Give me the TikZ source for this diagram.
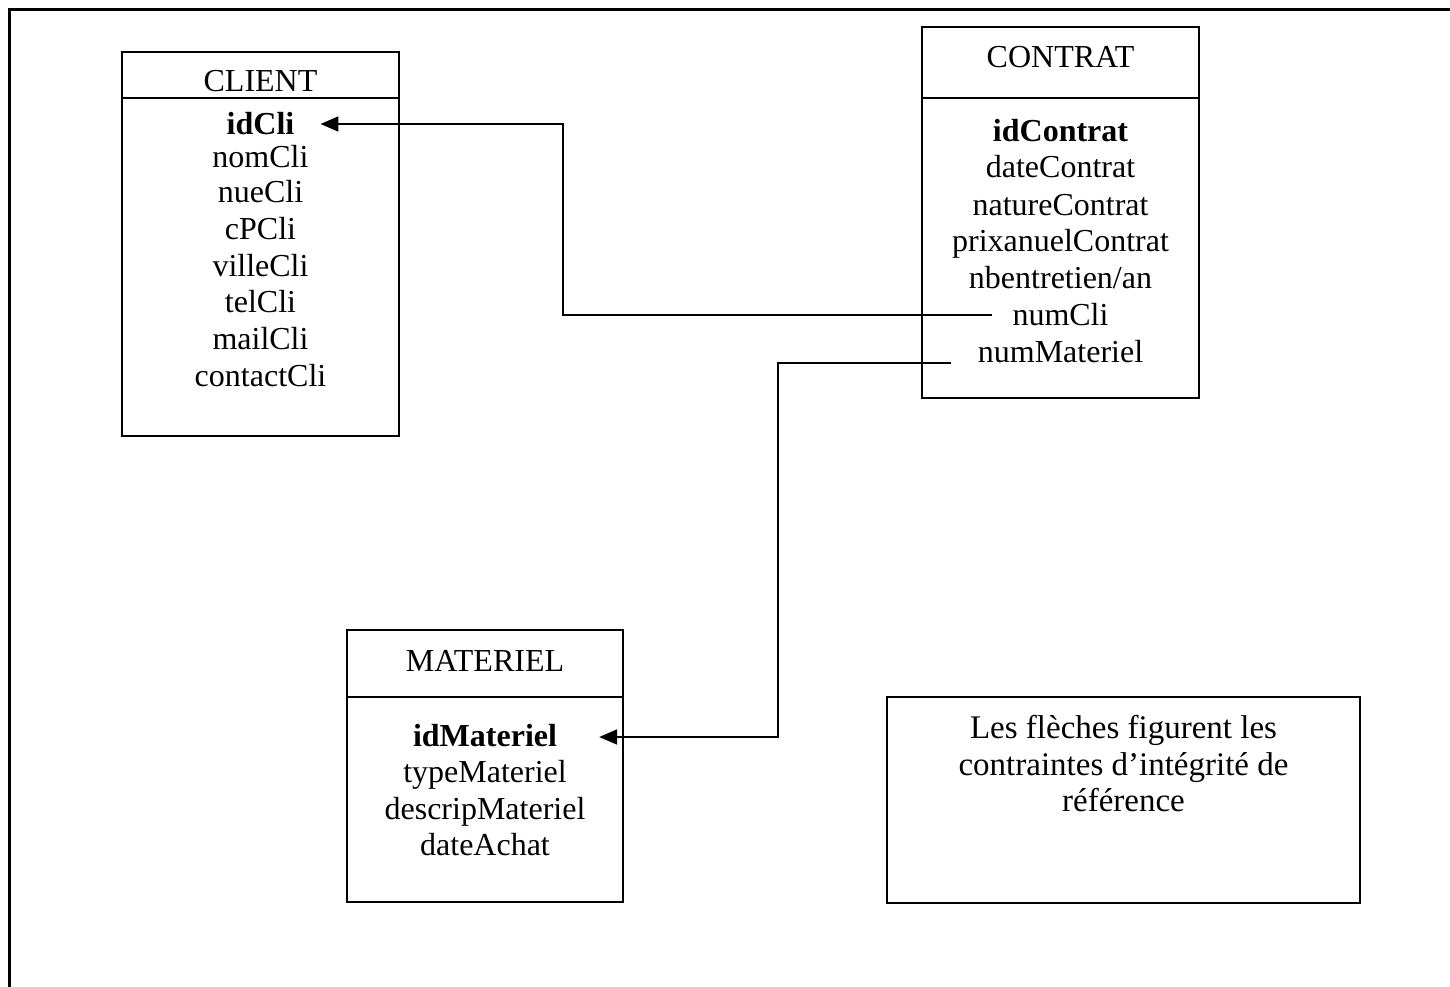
\documentclass[tikz,border=0pt]{standalone}
\usepackage{fontspec}
\setmainfont{Liberation Serif}
\usetikzlibrary{arrows.meta}
\tikzset{
  box/.style={draw, line width=1.6pt, inner sep=0pt},
  sep/.style={line width=1.6pt},
  txt/.style={inner sep=0pt, anchor=base, font=\fontsize{32}{37}\selectfont},
  key/.style={txt, font=\fontsize{32}{37}\selectfont\bfseries},
  link/.style={line width=1.8pt, -{Triangle[length=18pt,width=15pt]}},
  frame/.style={line width=3pt}
}
\begin{document}
\begin{tikzpicture}[x=1pt,y=-1pt]
\useasboundingbox (0,0) rectangle (1450,987);
% outer frame (top and left only)
\draw[frame] (9,990) -- (9,10) -- (1455,10);
% CLIENT
\node[box, minimum width=277pt, minimum height=384pt] (client) at (260.5,244) {};
\draw[sep] (client.west |- 0,98) -- (client.east |- 0,98);
\node[txt] (clientT) at (260.5,92) {CLIENT};
\node[key] (idCli) at (260.5,135) {idCli};
\node[txt] (nomCli) at (260.5,168) {nomCli};
\node[txt] (nueCli) at (260.5,203) {nueCli};
\node[txt] (cPCli) at (260.5,239) {cPCli};
\node[txt] (villeCli) at (260.5,276) {villeCli};
\node[txt] (telCli) at (260.5,312) {telCli};
\node[txt] (mailCli) at (260.5,349) {mailCli};
\node[txt] (contactCli) at (260.5,386) {contactCli};
% CONTRAT
\node[box, minimum width=277pt, minimum height=371pt] (contrat) at (1060.5,212.5) {};
\draw[sep] (contrat.west |- 0,98) -- (contrat.east |- 0,98);
\node[txt] (contratT) at (1060.5,68) {CONTRAT};
\node[key] (idContrat) at (1060.5,142) {idContrat};
\node[txt] (dateContrat) at (1060.5,178) {dateContrat};
\node[txt] (natureContrat) at (1060.5,215) {natureContrat};
\node[txt] (prix) at (1060.5,251) {prixanuelContrat};
\node[txt] (nbent) at (1060.5,288) {nbentretien/an};
\node[txt] (numCli) at (1060.5,325) {numCli};
\node[txt] (numMateriel) at (1060.5,362) {numMateriel};
% MATERIEL
\node[box, minimum width=276pt, minimum height=272pt] (materiel) at (485,766) {};
\draw[sep] (materiel.west |- 0,697) -- (materiel.east |- 0,697);
\node[txt] (materielT) at (485,671) {MATERIEL};
\node[key] (idMateriel) at (485,746) {idMateriel};
\node[txt] (typeMateriel) at (485,782) {typeMateriel};
\node[txt] (descripMateriel) at (485,819) {descripMateriel};
\node[txt] (dateAchat) at (485,855) {dateAchat};
% note
\node[box, minimum width=473pt, minimum height=206pt] (note) at (1123.5,800) {};
\node[txt, font=\fontsize{33}{37}\selectfont] (note1) at (1123.5,738) {Les flèches figurent les};
\node[txt, font=\fontsize{33}{37}\selectfont] (note2) at (1123.5,775) {contraintes d’intégrité de};
\node[txt, font=\fontsize{33}{37}\selectfont] (note3) at (1123.5,811) {référence};
% connectors
\coordinate (cliEnd) at ([xshift=-20pt]numCli.west |- 0,315);
\coordinate (cliBendA) at (563,315);
\coordinate (cliBendB) at (563,124);
\coordinate (idCliTip) at ([xshift=26pt]idCli.east |- 0,124);
\coordinate (matStart) at ([xshift=-27pt]numMateriel.west |- 0,363);
\coordinate (matBendA) at (778,363);
\coordinate (matBendB) at (778,737);
\coordinate (idMatTip) at ([xshift=42pt]idMateriel.east |- 0,737);
\draw[link] (cliEnd) -- (cliBendA) -- (cliBendB) -- (idCliTip);
\draw[link] (matStart) -- (matBendA) -- (matBendB) -- (idMatTip);
\end{tikzpicture}
\end{document}
